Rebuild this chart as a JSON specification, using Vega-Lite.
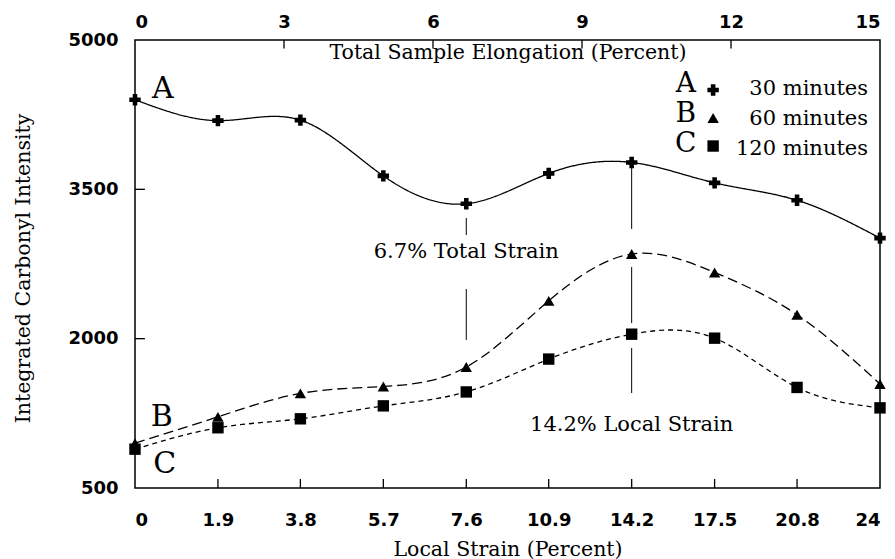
{
  "$schema": "https://vega.github.io/schema/vega-lite/v6.json",
  "width": 745,
  "height": 448,
  "autosize": {"type": "none"},
  "padding": {"left": 135, "top": 40, "right": 15, "bottom": 71},
  "background": "white",
  "config": {
    "view": {"stroke": "black", "strokeWidth": 1.5},
    "axis": {
      "grid": false,
      "domain": false,
      "ticks": false,
      "labelColor": "black",
      "labelFont": "DejaVu Sans",
      "labelFontWeight": "bold",
      "labelFontSize": 18,
      "titleFont": "DejaVu Serif",
      "titleFontSize": 20.5,
      "titleFontWeight": "normal",
      "titleColor": "black"
    }
  },
  "datasets": {
    "carbonyl": [
      {"total": 0, "local": "0", "series": "A", "intensity": 4400},
      {"total": 1.67, "local": "1.9", "series": "A", "intensity": 4190},
      {"total": 3.33, "local": "3.8", "series": "A", "intensity": 4195},
      {"total": 5, "local": "5.7", "series": "A", "intensity": 3635},
      {"total": 6.67, "local": "7.6", "series": "A", "intensity": 3355},
      {"total": 8.33, "local": "10.9", "series": "A", "intensity": 3660},
      {"total": 10, "local": "14.2", "series": "A", "intensity": 3770},
      {"total": 11.67, "local": "17.5", "series": "A", "intensity": 3565},
      {"total": 13.33, "local": "20.8", "series": "A", "intensity": 3390},
      {"total": 15, "local": "24", "series": "A", "intensity": 3010},
      {"total": 0, "local": "0", "series": "B", "intensity": 950},
      {"total": 1.67, "local": "1.9", "series": "B", "intensity": 1215},
      {"total": 3.33, "local": "3.8", "series": "B", "intensity": 1450},
      {"total": 5, "local": "5.7", "series": "B", "intensity": 1520},
      {"total": 6.67, "local": "7.6", "series": "B", "intensity": 1715},
      {"total": 8.33, "local": "10.9", "series": "B", "intensity": 2380},
      {"total": 10, "local": "14.2", "series": "B", "intensity": 2850},
      {"total": 11.67, "local": "17.5", "series": "B", "intensity": 2665},
      {"total": 13.33, "local": "20.8", "series": "B", "intensity": 2240},
      {"total": 15, "local": "24", "series": "B", "intensity": 1545},
      {"total": 0, "local": "0", "series": "C", "intensity": 890},
      {"total": 1.67, "local": "1.9", "series": "C", "intensity": 1105},
      {"total": 3.33, "local": "3.8", "series": "C", "intensity": 1195},
      {"total": 5, "local": "5.7", "series": "C", "intensity": 1325},
      {"total": 6.67, "local": "7.6", "series": "C", "intensity": 1465},
      {"total": 8.33, "local": "10.9", "series": "C", "intensity": 1795},
      {"total": 10, "local": "14.2", "series": "C", "intensity": 2045},
      {"total": 11.67, "local": "17.5", "series": "C", "intensity": 2005},
      {"total": 13.33, "local": "20.8", "series": "C", "intensity": 1510},
      {"total": 15, "local": "24", "series": "C", "intensity": 1305}
    ],
    "localStrainTicks": [
      {"total": 1.67}, {"total": 3.33}, {"total": 5}, {"total": 6.67},
      {"total": 8.33}, {"total": 10}, {"total": 11.67}, {"total": 13.33}
    ],
    "elongationTicks": [
      {"total": 3}, {"total": 6}, {"total": 9}, {"total": 12}
    ],
    "intensityTicks": [
      {"intensity": 2000}, {"intensity": 3500}
    ],
    "markers": [
      {"total": 6.67, "from": 3212, "to": 3041},
      {"total": 6.67, "from": 2499, "to": 1987},
      {"total": 10, "from": 3744, "to": 3102},
      {"total": 10, "from": 2720, "to": 2157},
      {"total": 10, "from": 1906, "to": 1454}
    ],
    "notes": [
      {"total": 6.67, "intensity": 2871, "text": "6.7% Total Strain"},
      {"total": 10, "intensity": 1133, "text": "14.2% Local Strain"}
    ],
    "curveTags": [
      {"total": 0.56, "intensity": 4508, "series": "A"},
      {"total": 0.54, "intensity": 1213, "series": "B"},
      {"total": 0.6, "intensity": 741, "series": "C"}
    ],
    "key": [
      {"series": "A", "label": "30 minutes", "tagAt": 11.09, "symbolAt": 11.64, "textAt": 14.76, "tagLevel": 4478, "symbolLevel": 4498, "textLevel": 4448},
      {"series": "B", "label": "60 minutes", "tagAt": 11.09, "symbolAt": 11.64, "textAt": 14.76, "tagLevel": 4177, "symbolLevel": 4217, "textLevel": 4146},
      {"series": "C", "label": "120 minutes", "tagAt": 11.09, "symbolAt": 11.64, "textAt": 14.76, "tagLevel": 3875, "symbolLevel": 3935, "textLevel": 3845}
    ]
  },
  "layer": [
    {
      "data": {"name": "markers"},
      "mark": {"type": "rule", "color": "black", "strokeWidth": 1},
      "encoding": {
        "x": {
          "field": "total",
          "type": "quantitative",
          "scale": {"domain": [0, 15], "nice": false, "zero": false},
          "axis": {
            "orient": "top",
            "values": [0, 3, 6, 9, 12, 15],
            "labelPadding": 9,
            "title": "Total Sample Elongation (Percent)",
            "titleY": 18,
            "titleBaseline": "alphabetic"
          }
        },
        "y": {"field": "from", "type": "quantitative", "axis": null},
        "y2": {"field": "to"}
      }
    },
    {
      "data": {"name": "localStrainTicks"},
      "mark": {"type": "rule", "color": "black", "strokeWidth": 1.3},
      "encoding": {
        "x": {"field": "total", "type": "quantitative", "axis": null},
        "y": {"datum": 500, "type": "quantitative", "axis": null},
        "y2": {"datum": 590}
      }
    },
    {
      "data": {"name": "elongationTicks"},
      "mark": {"type": "rule", "color": "black", "strokeWidth": 1.3},
      "encoding": {
        "x": {"field": "total", "type": "quantitative", "axis": null},
        "y": {"datum": 5000, "type": "quantitative", "axis": null},
        "y2": {"datum": 4915}
      }
    },
    {
      "data": {"name": "intensityTicks"},
      "mark": {"type": "rule", "color": "black", "strokeWidth": 1.3},
      "encoding": {
        "x": {"datum": 0, "type": "quantitative", "axis": null},
        "x2": {"datum": 0.2},
        "y": {"field": "intensity", "type": "quantitative", "axis": null}
      }
    },
    {
      "data": {"name": "carbonyl"},
      "mark": {"type": "line", "interpolate": "natural", "color": "black", "strokeWidth": 1.3},
      "encoding": {
        "x": {
          "field": "total",
          "type": "quantitative",
          "scale": {"domain": [0, 15], "nice": false, "zero": false},
          "axis": {
            "orient": "bottom",
            "values": [0, 1.67, 3.33, 5, 6.67, 8.33, 10, 11.67, 13.33, 15],
            "labelExpr": "['0','1.9','3.8','5.7','7.6','10.9','14.2','17.5','20.8','24'][round(datum.value * 0.6)]",
            "labelPadding": 23.5,
            "title": "Local Strain (Percent)",
            "titleY": 67,
            "titleBaseline": "alphabetic"
          }
        },
        "y": {
          "field": "intensity",
          "type": "quantitative",
          "scale": {"domain": [500, 5000], "nice": false, "zero": false},
          "axis": {
            "orient": "left",
            "values": [500, 2000, 3500, 5000],
            "format": "d",
            "labelPadding": 17,
            "title": "Integrated Carbonyl Intensity",
            "titleX": -106,
            "titleY": 228,
            "titleBaseline": "alphabetic"
          }
        },
        "strokeDash": {
          "field": "series",
          "type": "nominal",
          "scale": {"domain": ["A", "B", "C"], "range": [[1, 0], [10, 5], [5, 4]]},
          "legend": null
        }
      }
    },
    {
      "data": {"name": "carbonyl"},
      "mark": {"type": "point", "filled": true, "color": "black", "opacity": 1},
      "encoding": {
        "x": {"field": "total", "type": "quantitative", "axis": null},
        "y": {"field": "intensity", "type": "quantitative", "axis": null},
        "shape": {
          "field": "series",
          "type": "nominal",
          "scale": {"domain": ["A", "B", "C"], "range": ["cross", "triangle-up", "square"]},
          "legend": null
        },
        "size": {
          "field": "series",
          "type": "nominal",
          "scale": {"domain": ["A", "B", "C"], "range": [130, 130, 125]},
          "legend": null
        }
      }
    },
    {
      "data": {"name": "key"},
      "mark": {"type": "point", "filled": true, "color": "black", "opacity": 1},
      "encoding": {
        "x": {"field": "symbolAt", "type": "quantitative", "axis": null},
        "y": {"field": "symbolLevel", "type": "quantitative", "axis": null},
        "shape": {"field": "series", "type": "nominal", "legend": null},
        "size": {"field": "series", "type": "nominal", "legend": null}
      }
    },
    {
      "data": {"name": "key"},
      "mark": {"type": "text", "font": "DejaVu Serif", "fontSize": 28, "align": "center", "baseline": "alphabetic", "color": "black"},
      "encoding": {
        "x": {"field": "tagAt", "type": "quantitative", "axis": null},
        "y": {"field": "tagLevel", "type": "quantitative", "axis": null},
        "text": {"field": "series"}
      }
    },
    {
      "data": {"name": "key"},
      "mark": {"type": "text", "font": "DejaVu Serif", "fontSize": 21, "align": "right", "baseline": "alphabetic", "color": "black"},
      "encoding": {
        "x": {"field": "textAt", "type": "quantitative", "axis": null},
        "y": {"field": "textLevel", "type": "quantitative", "axis": null},
        "text": {"field": "label"}
      }
    },
    {
      "data": {"name": "curveTags"},
      "mark": {"type": "text", "font": "DejaVu Serif", "fontSize": 30, "align": "center", "baseline": "middle", "color": "black"},
      "encoding": {
        "x": {"field": "total", "type": "quantitative", "axis": null},
        "y": {"field": "intensity", "type": "quantitative", "axis": null},
        "text": {"field": "series"}
      }
    },
    {
      "data": {"name": "notes"},
      "mark": {"type": "text", "font": "DejaVu Serif", "fontSize": 21, "align": "center", "baseline": "middle", "color": "black"},
      "encoding": {
        "x": {"field": "total", "type": "quantitative", "axis": null},
        "y": {"field": "intensity", "type": "quantitative", "axis": null},
        "text": {"field": "text"}
      }
    }
  ],
  "resolve": {"axis": {"x": "independent", "y": "independent"}}
}
